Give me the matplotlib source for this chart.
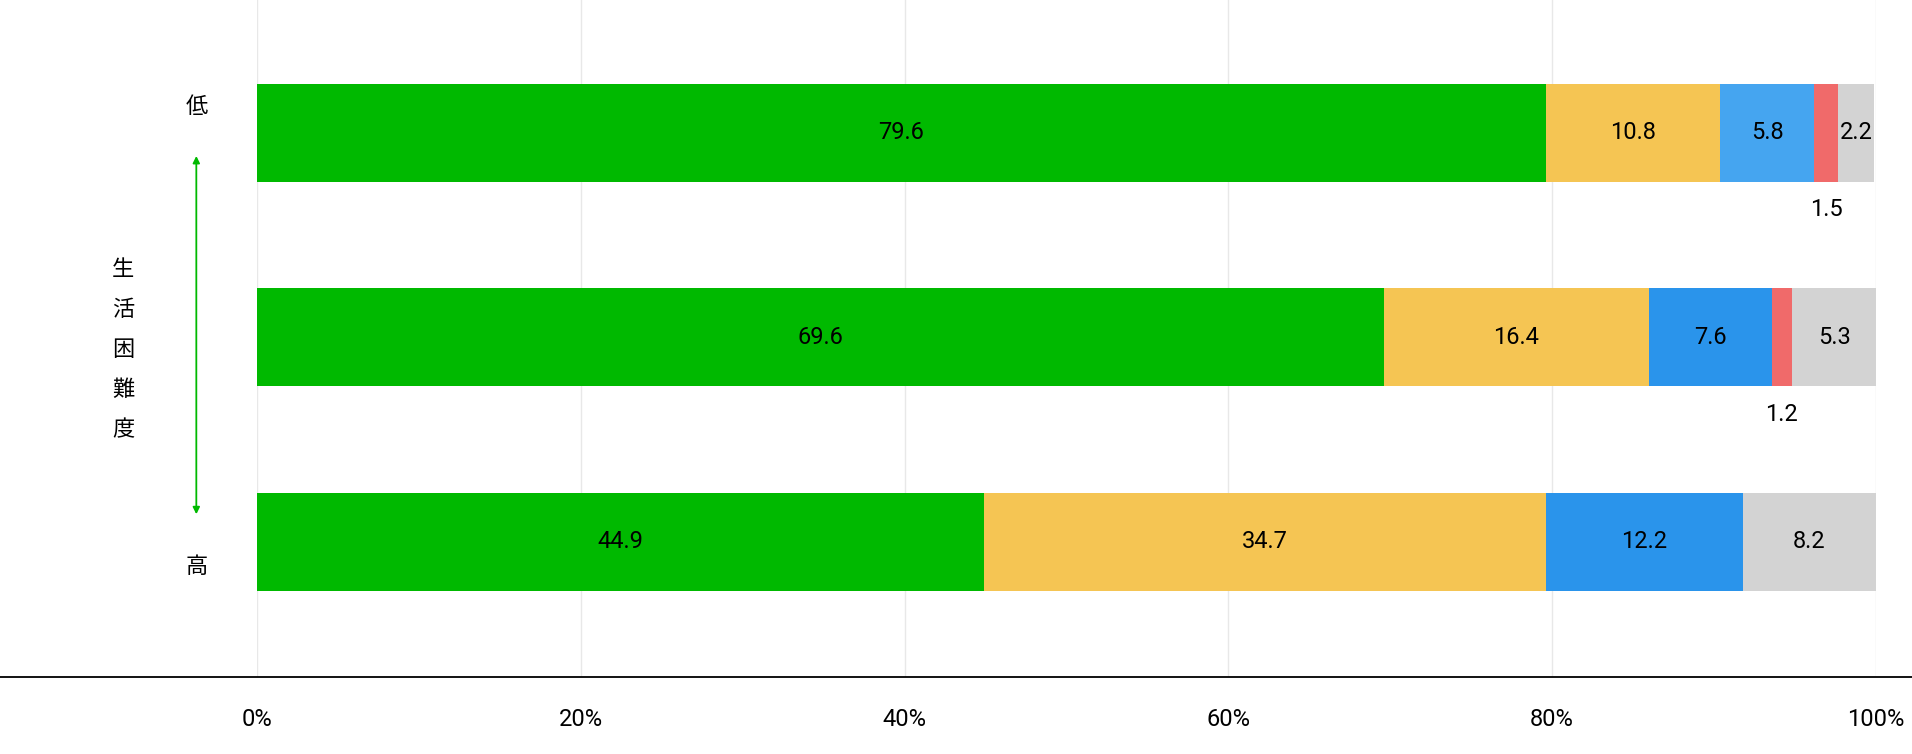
import matplotlib
matplotlib.use("Agg")
import matplotlib.pyplot as plt
import numpy as np

plt.rcParams['font.family'] = ['Roboto', 'Noto Sans CJK JP', 'DejaVu Sans']

rows = ["低", "中", "高"]
green = [79.6, 69.6, 44.9]
yellow = [10.8, 16.4, 34.7]
blue = [5.8, 7.6, 12.2]
red = [1.5, 1.2, 0.0]
gray = [2.2, 5.3, 8.2]
series = [green, yellow, blue, red, gray]
colors = ["#00B900", "#F5C553", "#2A94EB", "#F06A6A", "#D3D3D3"]
blue_row_colors = ["#45A5F0", "#2A94EB", "#2A94EB"]
ticks = [0, 20, 40, 60, 80, 100]

fig = plt.figure(figsize=(19.12, 7.54), dpi=100)
ax = fig.add_axes([0.1346, 0.102, 0.981 - 0.1346, 0.898])
ax.set_xlim(0, 100)
ax.set_ylim(2.661, -0.649)
h = 0.48
for i in range(3):
    left = 0
    for s, (vals, c) in enumerate(zip(series, colors)):
        v = vals[i]
        if v <= 0:
            continue
        col = blue_row_colors[i] if s == 2 else c
        ax.barh(i, v, left=left, height=h, color=col, zorder=2)
        if s == 3:
            ax.text(left + v / 2, i + 0.375, f"{v}", ha="center", va="center", fontsize=17)
        else:
            ax.text(left + v / 2, i, f"{v}", ha="center", va="center", fontsize=17)
        left += v

for t in ticks:
    ax.axvline(t, color="#E8E8E8", lw=1, zorder=0)
ax.set_xticks(ticks)
ax.set_xticklabels([f"{t}%" for t in ticks], fontsize=17)
ax.tick_params(axis="x", length=0, pad=22)
ax.set_yticks([])
for sp in ["top", "right", "left", "bottom"]:
    ax.spines[sp].set_visible(False)

# full-width baseline
fig.add_artist(plt.Line2D([0, 1], [0.102, 0.102], color="black", lw=1.3, transform=fig.transFigure))

# left annotation
fig.text(161 / 1568, 1 - 89 / 630, "低", ha="center", va="center", fontsize=16, family=['Noto Sans CJK JP'])
fig.text(161 / 1568, 1 - 473 / 630, "高", ha="center", va="center", fontsize=16, family=['Noto Sans CJK JP'])
fig.add_artist(matplotlib.patches.FancyArrowPatch((161 / 1568, 1 - 128 / 630), (161 / 1568, 1 - 432 / 630),
               transform=fig.transFigure, arrowstyle="<|-|>", mutation_scale=10, color="#00B900", lw=1.3))
for k, ch in enumerate("生活困難度"):
    fig.text(101 / 1568, 1 - (225 + k * 33.5) / 630, ch, ha="center", va="center", fontsize=16,
             family=['Noto Sans CJK JP'])

fig.savefig("out.png", dpi=100)
